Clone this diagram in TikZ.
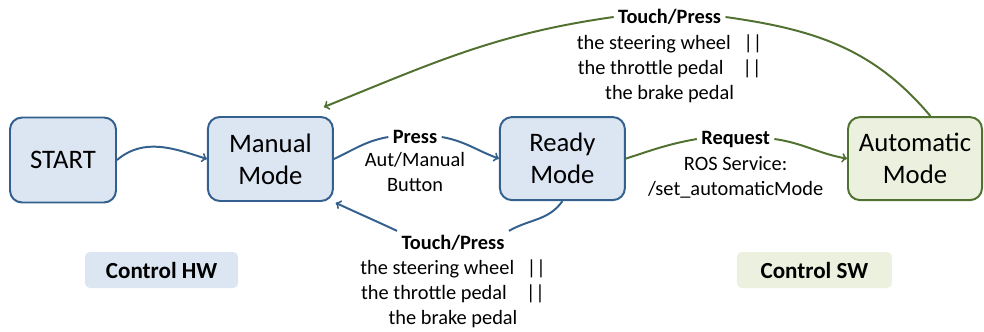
\documentclass[tikz,border=0pt]{standalone}
\usepackage{fontspec}
\setmainfont{Carlito}
\usepackage{tikz}
\usetikzlibrary{arrows, positioning}

\definecolor{hwfill}{HTML}{DCE6F2}
\definecolor{hwline}{HTML}{34608E}
\definecolor{swfill}{HTML}{EBF1DE}
\definecolor{swline}{HTML}{50712F}

\tikzset{
  modebox/.style={rectangle,rounded corners=0.3cm,line width=1.4pt,minimum width=3.125cm,minimum height=2.1cm,align=center,font=\fontsize{19}{23}\selectfont},
  hwmode/.style={modebox,draw=hwline,fill=hwfill},
  swmode/.style={modebox,draw=swline,fill=swfill},
  ctrltag/.style={rectangle,rounded corners=0.12cm,minimum height=0.9cm,font=\fontsize{16.4}{19}\selectfont\bfseries},
  trigger/.style={inner sep=3pt,font=\fontsize{14.5}{17.8}\selectfont\bfseries},
  detail/.style={inner sep=0pt,align=center,font=\fontsize{14.5}{17.8}\selectfont},
  hwarrow/.style={line width=1.4pt,hwline},
  swarrow/.style={line width=1.4pt,swline}
}

\begin{document}
\begin{tikzpicture}
    \useasboundingbox (0,0) rectangle (24.6,8.275);

    % Modes
    \node[hwmode,minimum width=2.65cm,minimum height=2.125cm] (start) at (1.575,4.275) {START};
    \node[hwmode] (manual) at (6.76,4.3) {Manual\\Mode};
    \node[hwmode,minimum height=2.075cm] (ready) at (14.06,4.31) {Ready\\Mode};
    \node[swmode,minimum width=3.35cm,minimum height=2.075cm] (auto) at (22.875,4.31) {Automatic\\Mode};

    % Control tags
    \node[ctrltag,fill=hwfill,minimum width=3.825cm] (hw) at (4.04,1.525) {Control HW};
    \node[ctrltag,fill=swfill,minimum width=3.875cm] (sw) at (20.36,1.525) {Control SW};

    % Transition labels
    \node[trigger] (press) at (10.375,4.85) {Press};
    \node[detail,below=3pt of press] (pressd) {Aut/Manual\\Button};

    \node[trigger] (request) at (18.39,4.8) {Request};
    \node[detail,below=3.5pt of request] (requestd) {ROS Service:\\/set\_automaticMode};

    \node[trigger] (touchtop) at (16.74,7.85) {Touch/Press};
    \node[detail,below=3.5pt of touchtop] (touchtopd) {the steering wheel\hspace{0.32cm}||\\the throttle pedal\hspace{0.48cm}||\\the brake pedal};

    \node[trigger] (touchbot) at (11.325,2.2) {Touch/Press};
    \node[detail,below=3pt of touchbot] (touchbotd) {the steering wheel\hspace{0.32cm}||\\the throttle pedal\hspace{0.48cm}||\\the brake pedal};

    % Transitions
    \draw[->,hwarrow] (start.east) to[out=40,in=162] (manual.west);

    \draw[hwarrow] (manual.east) to[out=25,in=190] (press.west);
    \draw[->,hwarrow] (press.east) to[out=-10,in=160] (ready.west);

    \draw[swarrow] (ready.east) to[out=18,in=190] (request.west);
    \draw[->,swarrow] (request.east) to[out=-8,in=170] (auto.west);

    \draw[swarrow] (auto.70) to[out=130,in=-8] (touchtop.east);
    \draw[->,swarrow] (touchtop.west) to[out=188,in=22] ([shift={(-0.25,0.225)}]manual.north east);

    \draw[hwarrow] (ready.south) to[out=235,in=30] (touchbot.north east);
    \draw[->,hwarrow,shorten >=0.05cm] (touchbot.north west) to[out=155,in=-25] (manual.south east);
\end{tikzpicture}
\end{document}
